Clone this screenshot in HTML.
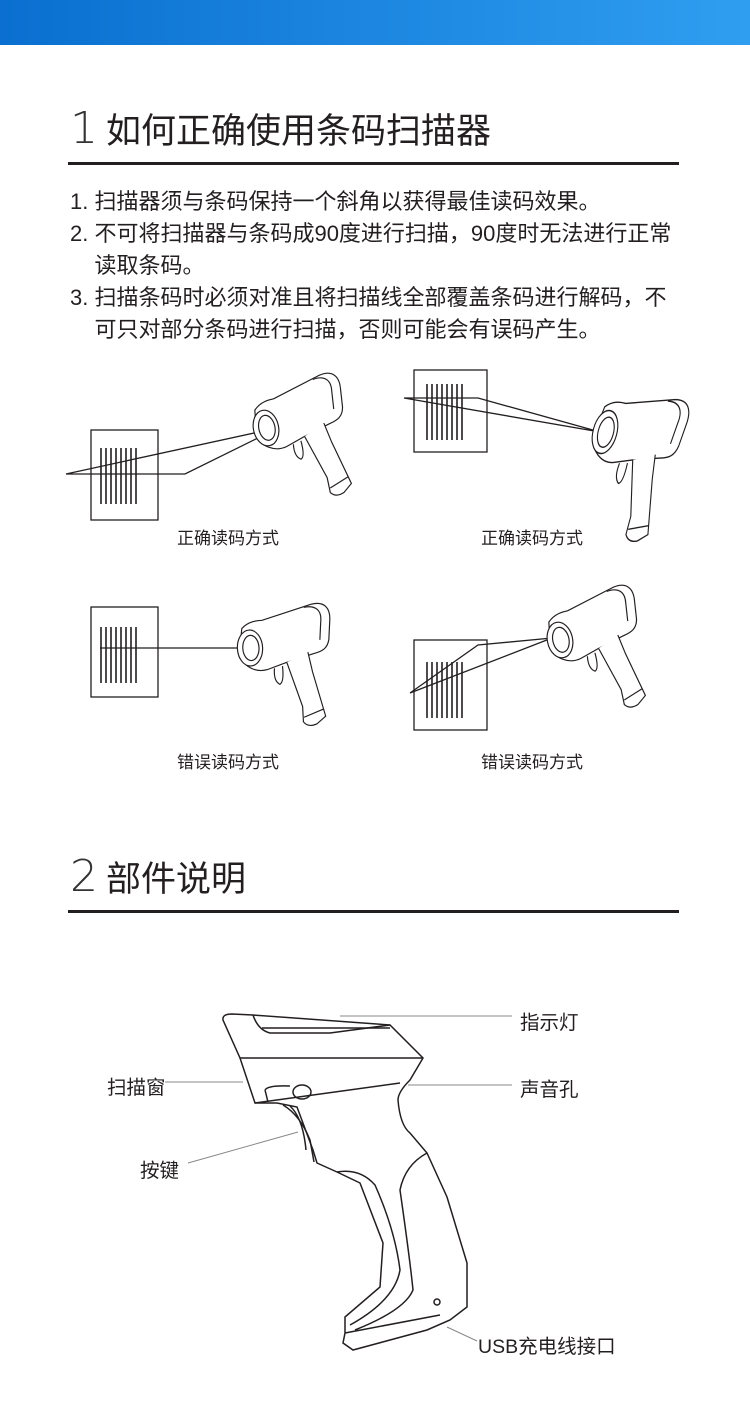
<!DOCTYPE html>
<html><head><meta charset="utf-8"><style>
body{margin:0;width:750px;height:1427px;background:#fff;position:relative;overflow:hidden;font-family:"Liberation Sans","Noto Sans CJK SC",sans-serif;color:#231f20}
.bar{position:absolute;left:0;top:0;width:750px;height:45px;background:linear-gradient(90deg,#0a6fd0,#2f9ef0)}
.t{position:absolute;white-space:nowrap}
.h{font-size:35px;left:70px}
.h b{font-size:44px;color:#333;margin-right:8px;font-family:"DejaVu Sans","Liberation Sans",sans-serif;font-weight:200}
.rule{position:absolute;left:68px;width:611px;height:3px;background:#231f20}
.li{font-size:22px;left:70px;line-height:32px}
.cap{font-size:17px}
.lab{font-size:19.5px}
svg{position:absolute;left:0;top:0}
</style></head><body>
<div class="bar"></div>
<div class="t h" style="top:103px"><b>1</b>如何正确使用条码扫描器</div>
<div class="rule" style="top:162px"></div>
<div class="t li" style="top:186px">1. 扫描器须与条码保持一个斜角以获得最佳读码效果。<br>2. 不可将扫描器与条码成90度进行扫描，90度时无法进行正常<br>&nbsp;&nbsp;&nbsp; 读取条码。<br>3. 扫描条码时必须对准且将扫描线全部覆盖条码进行解码，不<br>&nbsp;&nbsp;&nbsp; 可只对部分条码进行扫描，否则可能会有误码产生。</div>
<div class="t cap" style="left:177px;top:524px">正确读码方式</div>
<div class="t cap" style="left:481px;top:524px">正确读码方式</div>
<div class="t cap" style="left:177px;top:748px">错误读码方式</div>
<div class="t cap" style="left:481px;top:748px">错误读码方式</div>
<div class="t h" style="top:851px"><b>2</b>部件说明</div>
<div class="rule" style="top:910px"></div>
<div class="t lab" style="left:520px;top:1006px">指示灯</div>
<div class="t lab" style="left:107px;top:1071px">扫描窗</div>
<div class="t lab" style="left:520px;top:1073px">声音孔</div>
<div class="t lab" style="left:140px;top:1154px">按键</div>
<div class="t lab" style="left:478px;top:1330px">USB充电线接口</div>
<svg width="750" height="1427" viewBox="0 0 750 1427" fill="none" stroke="#231f20" stroke-width="1.3">
<defs>
<g id="sc">
<path d="M-8,-22 C0,-30 10,-30 15,-30 L70,-45 C85,-48 92,-40 90,-25 L88,-5 C86,5 80,8 70,10 L40,18 L18,25 C5,28 -10,20 -12,5 Z" fill="#fff"/>
<path d="M62,-42 C75,-44 82,-38 80,-25 L78,-5"/>
<ellipse cx="0" cy="0" rx="14" ry="20" fill="#fff"/>
<ellipse cx="1" cy="0" rx="9" ry="14"/>
<path d="M40,18 L55,68 L55,85 Q60,92 70,88 L80,80 L68,30 L64,8" fill="#fff"/>
<path d="M56,80 L78,72"/>
<path d="M26,24 Q24,38 31,42 Q36,40 35,22"/>
</g>
<g id="bc"><path d="M0,0V56M5,0V56M10,0V56M15,0V56M20,0V56M25,0V56M30,0V56M35,0V56" stroke-width="1.6"/></g>
</defs>
<rect x="91" y="430" width="67" height="90"/><use href="#bc" x="101" y="448"/>
<path d="M66,474 L268,430 M66,474 L185,474 L262,436"/>
<use href="#sc" transform="translate(266,428) rotate(-12) scale(0.9)"/>
<rect x="414" y="370" width="73" height="82"/><use href="#bc" x="427" y="384"/>
<path d="M404,398 L600,432 M404,398 L478,398 L600,432"/>
<use href="#sc" transform="translate(605,432) rotate(15) scale(0.85,1.1)"/>
<rect x="91" y="607" width="67" height="90"/><use href="#bc" x="101" y="627"/>
<path d="M100,648 L240,648"/>
<use href="#sc" transform="translate(250,648) rotate(-3) scale(0.9)"/>
<rect x="414" y="640" width="73" height="90"/><use href="#bc" x="427" y="662"/>
<path d="M410,693 L552,638 M410,693 L478,645 L552,638"/>
<use href="#sc" transform="translate(560,640) rotate(-12) scale(0.9)"/>
<g stroke-width="1.5">
<path d="M223,1020 Q222,1014 232,1014 L253,1015 L390,1025 L423,1058 L410,1080 Q398,1092 398,1100 Q400,1125 410,1133 L427,1153 L447,1197 L467,1263 L467,1307 L450,1320 L427,1330 L353,1350 L343,1343 L345,1333 L345,1317 L380,1287 L383,1243 L360,1183 L337,1172 L317,1163 L313,1150 L297,1107 L277,1103 L255,1103 L240,1058 Z"/>
<path d="M240,1058 L423,1058 M255,1103 L400,1083"/>
<path d="M253,1015 Q258,1030 270,1033 L330,1033 L390,1025"/>
<path d="M262,1028 L390,1028"/>
<ellipse cx="302" cy="1092" rx="9" ry="7"/><path d="M265,1090 Q268,1085 290,1086 M265,1090 L268,1102"/>
<path d="M283,1105 Q300,1115 310,1140 L314,1162 M290,1106 Q303,1118 306,1150"/>
<path d="M337,1172 Q360,1168 375,1185 Q395,1230 400,1270 Q395,1300 350,1325"/>
<path d="M427,1153 Q405,1165 400,1190 Q410,1260 413,1290 Q405,1310 355,1330 M345,1333 L440,1315"/>
<circle cx="437" cy="1302" r="3"/>
</g>
<g stroke="#888" stroke-width="1">
<path d="M340,1016 L512,1016 M165,1082 L243,1082 M408,1085 L512,1085 M188,1163 L298,1132 M447,1327 L477,1341"/>
</g>
</svg>
</body></html>
